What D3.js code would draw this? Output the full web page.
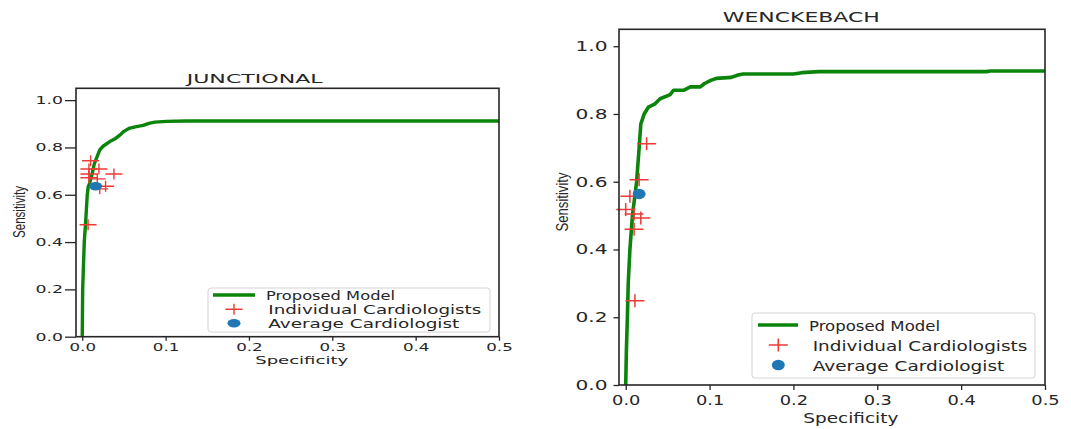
<!DOCTYPE html>
<html>
<head>
<meta charset="utf-8">
<script src="https://cdn.jsdelivr.net/npm/d3@7"></script>
<style>
  html, body { margin: 0; padding: 0; background: #ffffff; }
  svg { display: block; }
</style>
</head>
<body>
<svg id="chart" width="1071" height="429"></svg>
<script>
// ---- data -------------------------------------------------------------
const xTicks = [0.0, 0.1, 0.2, 0.3, 0.4, 0.5];
const yTicks = [0.0, 0.2, 0.4, 0.6, 0.8, 1.0];
const legendLabels = ["Proposed Model", "Individual Cardiologists", "Average Cardiologist"];

// JUNCTIONAL: ROC curve of the model
const junctionalRocX = [0, 0.0005, 0.0024, 0.004, 0.006, 0.0072, 0.0085, 0.012, 0.0144, 0.019, 0.021, 0.025, 0.033, 0.040, 0.045, 0.050, 0.057, 0.065, 0.073, 0.080, 0.087, 0.101, 0.125, 0.5];
const junctionalRocY = [0, 0.20, 0.40, 0.48, 0.60, 0.635, 0.645, 0.69, 0.73, 0.772, 0.79, 0.805, 0.825, 0.838, 0.852, 0.868, 0.882, 0.888, 0.893, 0.902, 0.907, 0.910, 0.912, 0.912];
// JUNCTIONAL: individual cardiologists and their average
const junctionalCardX = [0.010, 0.008, 0.020, 0.008, 0.038, 0.008, 0.018, 0.028, 0.021, 0.007];
const junctionalCardY = [0.744, 0.709, 0.709, 0.688, 0.688, 0.672, 0.667, 0.636, 0.625, 0.473];
const junctionalAvg = [0.016, 0.636];

// WENCKEBACH: ROC curve of the model
const wenckebachRocX = [0, 0.0008, 0.002, 0.003, 0.005, 0.008, 0.013, 0.016, 0.018, 0.022, 0.027, 0.035, 0.041, 0.053, 0.057, 0.069, 0.073, 0.077, 0.089, 0.094, 0.102, 0.108, 0.126, 0.134, 0.14, 0.2, 0.21, 0.23, 0.43, 0.435, 0.5];
const wenckebachRocY = [0, 0.10, 0.20, 0.30, 0.40, 0.50, 0.60, 0.70, 0.77, 0.80, 0.82, 0.83, 0.845, 0.857, 0.87, 0.87, 0.875, 0.88, 0.88, 0.89, 0.90, 0.905, 0.908, 0.915, 0.918, 0.918, 0.922, 0.925, 0.925, 0.927, 0.927];
// WENCKEBACH: individual cardiologists and their average
const wenckebachCardX = [0.025, 0.016, 0.005, 0.000, 0.010, 0.018, 0.010, 0.011];
const wenckebachCardY = [0.712, 0.606, 0.557, 0.518, 0.505, 0.493, 0.460, 0.249];
const wenckebachAvg = [0.016, 0.564];

// ---- styles -----------------------------------------------------------
const GREEN = "#0b840b";
const RED = "#ec3b36";
const BLUE = "#1f77b4";
const INK = "#262626";
const FONT = "'DejaVu Sans', Verdana, sans-serif";
const NARROW = "'Liberation Sans', Arial, sans-serif";

const svg = d3.select("#chart");

// Text stretched to a given advance length (the figure's type is wide).
function label(g, o) {
  const t = g.append("text")
    .attr("font-family", o.family || FONT)
    .attr("font-size", o.size)
    .attr("fill", INK)
    .attr("text-anchor", o.anchor || "start")
    .text(o.text);
  if (o.width) t.attr("textLength", o.width).attr("lengthAdjust", "spacingAndGlyphs");
  if (o.rotate) {
    t.attr("transform", `translate(${o.x},${o.y}) scale(${o.hscale || 1},1) rotate(-90)`);
  } else {
    t.attr("x", o.x).attr("y", o.y);
  }
  return t;
}

function crossPath(cx, cy, w, h) {
  return `M${cx - w / 2},${cy}H${cx + w / 2}M${cx},${cy - h / 2}V${cy + h / 2}`;
}

function drawPanel(cfg) {
  const g = svg.append("g");
  const x = d3.scaleLinear().domain(cfg.xDomain).range([cfg.left, cfg.right]);
  const y = d3.scaleLinear().domain([0, 1.05]).range([cfg.bottom, cfg.top]);

  const clipId = "clip-" + cfg.id;
  svg.append("clipPath").attr("id", clipId)
    .append("rect")
    .attr("x", cfg.left).attr("y", cfg.top)
    .attr("width", cfg.right - cfg.left).attr("height", cfg.bottom - cfg.top);

  // axes
  const xAxis = d3.axisBottom(x).tickValues(xTicks).tickFormat(d3.format(".1f"))
    .tickSize(cfg.xTickSize).tickPadding(cfg.xTickPad);
  const yAxis = d3.axisLeft(y).tickValues(yTicks).tickFormat(d3.format(".1f"))
    .tickSize(cfg.yTickSize).tickPadding(cfg.yTickPad);

  const gx = g.append("g").attr("transform", `translate(0,${cfg.bottom})`).call(xAxis);
  const gy = g.append("g").attr("transform", `translate(${cfg.left},0)`).call(yAxis);
  [gx, gy].forEach(a => {
    a.select(".domain").remove();
    a.selectAll(".tick line").attr("stroke", INK).attr("stroke-width", cfg.tickWidth);
    a.selectAll(".tick text")
      .attr("fill", INK)
      .attr("font-family", FONT)
      .attr("font-size", cfg.tickFont)
      .attr("lengthAdjust", "spacingAndGlyphs");
  });
  gx.selectAll(".tick text").attr("textLength", cfg.xTickLen);
  gy.selectAll(".tick text").attr("textLength", cfg.yTickLen);

  // ROC curve
  const pts = cfg.rocX.map((v, i) => [v, cfg.rocY[i]]);
  g.append("path")
    .datum(pts)
    .attr("clip-path", `url(#${clipId})`)
    .attr("fill", "none")
    .attr("stroke", GREEN)
    .attr("stroke-width", cfg.lineWidth)
    .attr("stroke-linejoin", "round")
    .attr("d", d3.line().x(d => x(d[0])).y(d => y(d[1])));

  // individual cardiologists
  g.append("g").selectAll("path")
    .data(cfg.cardX.map((v, i) => [v, cfg.cardY[i]]))
    .join("path")
    .attr("fill", "none")
    .attr("stroke", RED)
    .attr("stroke-width", cfg.crossWidth)
    .attr("d", d => crossPath(x(d[0]), y(d[1]), cfg.crossW, cfg.crossH));

  // average cardiologist
  g.append("ellipse")
    .attr("cx", x(cfg.avg[0])).attr("cy", y(cfg.avg[1]))
    .attr("rx", cfg.dotRx).attr("ry", cfg.dotRy)
    .attr("fill", BLUE);

  // frame
  g.append("rect")
    .attr("x", cfg.left).attr("y", cfg.top)
    .attr("width", cfg.right - cfg.left).attr("height", cfg.bottom - cfg.top)
    .attr("fill", "none").attr("stroke", INK).attr("stroke-width", cfg.frameWidth);

  // title and axis labels
  label(g, { text: cfg.title, x: cfg.titleX, y: cfg.titleY, size: cfg.titleFont, anchor: "middle", width: cfg.titleLen });
  label(g, { text: "Specificity", x: cfg.xLabelX, y: cfg.xLabelY, size: cfg.xLabelFont, anchor: "middle", width: cfg.xLabelLen });
  label(g, { text: "Sensitivity", x: cfg.yLabelX, y: cfg.yLabelY, size: cfg.yLabelFont, anchor: "middle",
             width: cfg.yLabelLen, rotate: true, hscale: cfg.yLabelScale, family: NARROW });

  // legend
  const L = cfg.legend;
  g.append("rect")
    .attr("x", L.x0).attr("y", L.y0).attr("width", L.x1 - L.x0).attr("height", L.y1 - L.y0)
    .attr("rx", 3).attr("fill", "#ffffff").attr("stroke", "#d4d4d4").attr("stroke-width", 1);
  g.append("line")
    .attr("x1", L.lineX0).attr("x2", L.lineX1).attr("y1", L.rowY[0]).attr("y2", L.rowY[0])
    .attr("stroke", GREEN).attr("stroke-width", cfg.lineWidth);
  g.append("path")
    .attr("fill", "none").attr("stroke", RED).attr("stroke-width", cfg.crossWidth)
    .attr("d", crossPath(L.markX, L.rowY[1], cfg.crossW, cfg.crossH));
  g.append("ellipse")
    .attr("cx", L.markX).attr("cy", L.rowY[2]).attr("rx", cfg.dotRx).attr("ry", cfg.dotRy)
    .attr("fill", BLUE);
  legendLabels.forEach((s, i) => {
    label(g, { text: s, x: L.textX[i], y: L.baseY[i], size: L.font, width: L.textLen[i] });
  });
}

drawPanel({
  id: "junctional", title: "JUNCTIONAL",
  rocX: junctionalRocX, rocY: junctionalRocY,
  cardX: junctionalCardX, cardY: junctionalCardY, avg: junctionalAvg,
  xDomain: [-0.0075, 0.5],
  left: 76, right: 499, top: 88.3, bottom: 336.7,
  xTickSize: 4, xTickPad: 3, yTickSize: 11, yTickPad: 2,
  tickWidth: 1.3, tickFont: 11, xTickLen: 26.5, yTickLen: 27.5,
  lineWidth: 3.4, crossWidth: 1.4, crossW: 17, crossH: 11, dotRx: 6.5, dotRy: 4.2,
  frameWidth: 1.6,
  titleX: 254.7, titleY: 82.7, titleFont: 12.8, titleLen: 136,
  xLabelX: 301.7, xLabelY: 364, xLabelFont: 10.5, xLabelLen: 93,
  yLabelX: 25, yLabelY: 212, yLabelFont: 11.5, yLabelLen: 52, yLabelScale: 1.4,
  legend: {
    x0: 208, x1: 490, y0: 288, y1: 332,
    lineX0: 213, lineX1: 255, markX: 234, rowY: [295, 309.3, 323.3],
    textX: [266, 268.3, 268.3], baseY: [299.5, 314, 327.7],
    font: 12, textLen: [129, 213, 191]
  }
});

drawPanel({
  id: "wenckebach", title: "WENCKEBACH",
  rocX: wenckebachRocX, rocY: wenckebachRocY,
  cardX: wenckebachCardX, cardY: wenckebachCardY, avg: wenckebachAvg,
  xDomain: [-0.008, 0.5],
  left: 619, right: 1045, top: 29.3, bottom: 385,
  xTickSize: 5, xTickPad: 5, yTickSize: 5.5, yTickPad: 6,
  tickWidth: 1.3, tickFont: 14, xTickLen: 28.3, yTickLen: 32,
  lineWidth: 3.6, crossWidth: 1.5, crossW: 19, crossH: 13, dotRx: 6.5, dotRy: 5.2,
  frameWidth: 1.6,
  titleX: 801.3, titleY: 21.7, titleFont: 14.6, titleLen: 157,
  xLabelX: 850.8, xLabelY: 422.7, xLabelFont: 14, xLabelLen: 95,
  yLabelX: 567.5, yLabelY: 202, yLabelFont: 13, yLabelLen: 59, yLabelScale: 1.3,
  legend: {
    x0: 752, x1: 1035, y0: 313, y1: 378,
    lineX0: 758, lineX1: 798, markX: 778.3, rowY: [325, 345, 365],
    textX: [809, 812.7, 812.7], baseY: [331, 350.7, 370.7],
    font: 14.3, textLen: [131, 214.7, 191.7]
  }
});
</script>
</body>
</html>
